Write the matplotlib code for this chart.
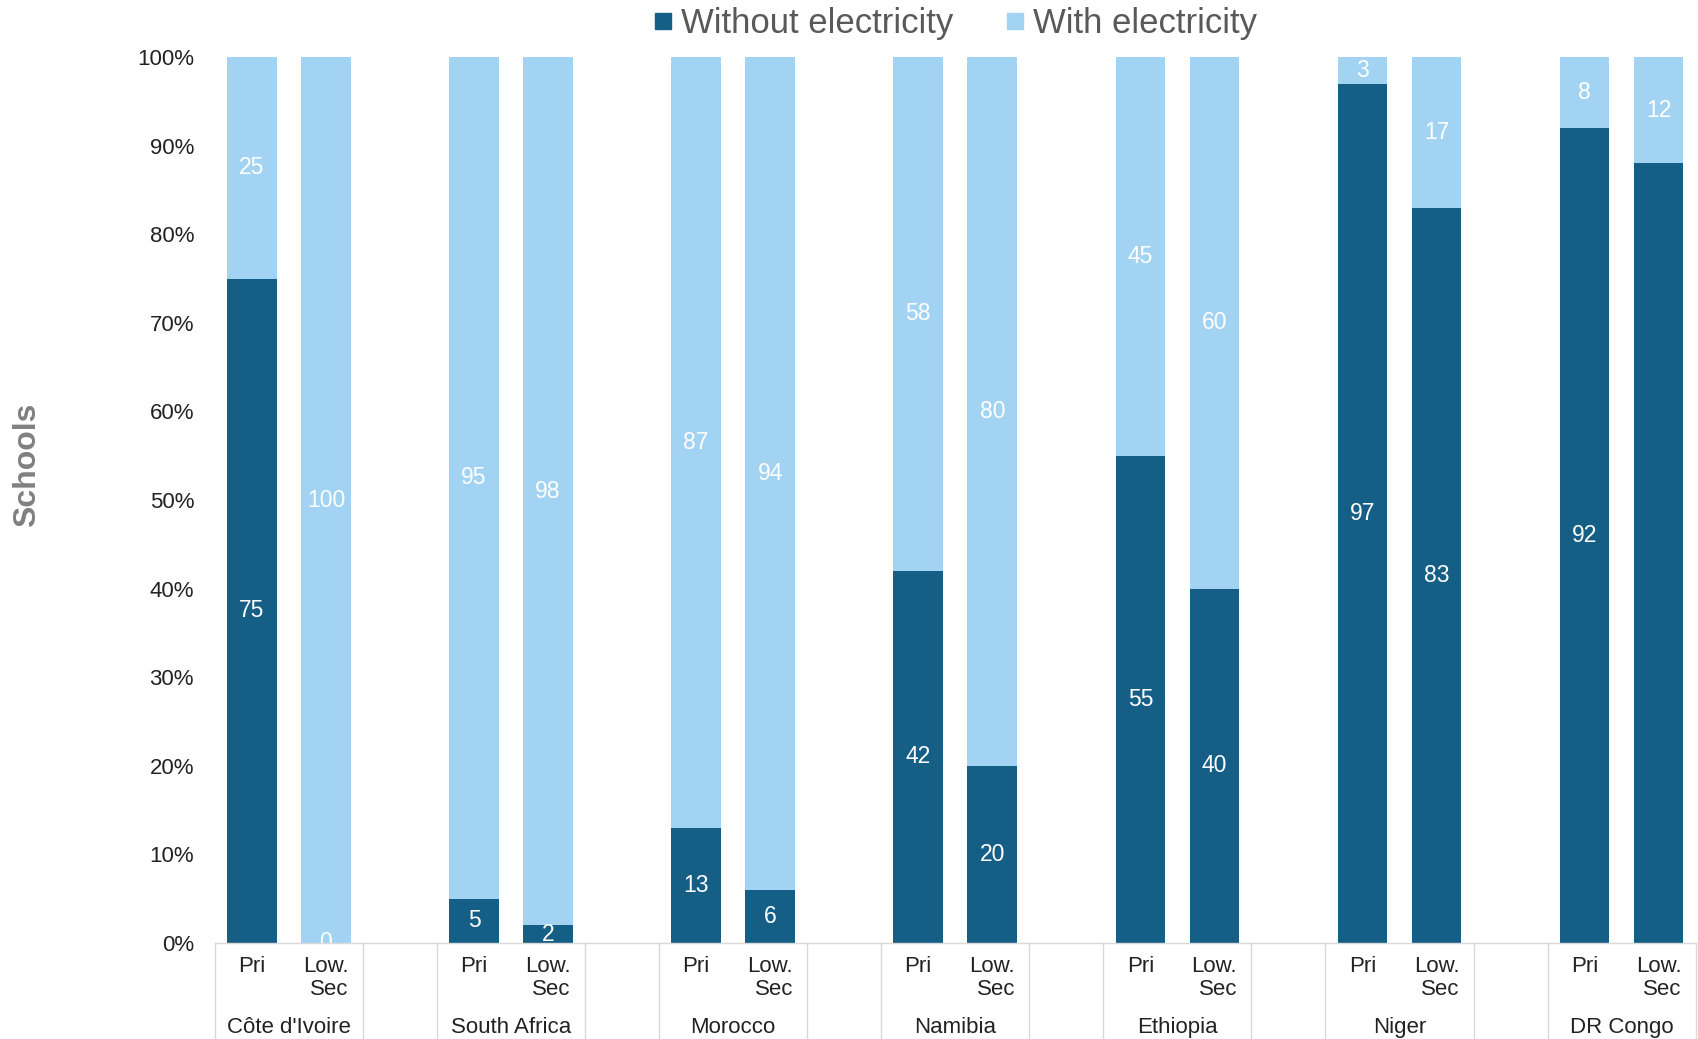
import matplotlib.pyplot as plt
from matplotlib.lines import Line2D

plt.rcParams['font.family'] = ['Liberation Sans', 'DejaVu Sans']

countries = ["Côte d'Ivoire", 'South Africa', 'Morocco', 'Namibia', 'Ethiopia', 'Niger', 'DR Congo']
levels = ['Pri', 'Low.\nSec']

# percent of schools, pairs per country (Pri, Low. Sec)
without_elec = [75, 0, 5, 2, 13, 6, 42, 20, 55, 40, 97, 83, 92, 88]
with_elec = [25, 100, 95, 98, 87, 94, 58, 80, 45, 60, 3, 17, 8, 12]
# DR Congo Low. Sec dark segment has no label in the original
show_without = [True] * 13 + [False]

dark = '#155E86'
light = '#A3D3F3'
grid_col = '#D9D9D9'
txt_col = '#222222'

fig = plt.figure(figsize=(16.99, 10.39), dpi=100)
ax = fig.add_axes([0.1265, 0.0924, 0.8715, 0.8527])

# 3 slots per country: Pri, Low Sec, gap
xs = []
for i in range(len(countries)):
    xs += [i * 3, i * 3 + 1]

w = 0.67
ax.bar(xs, without_elec, width=w, color=dark, zorder=2)
ax.bar(xs, with_elec, width=w, bottom=without_elec, color=light, zorder=2)

for k, x in enumerate(xs):
    d = without_elec[k]
    l = with_elec[k]
    if show_without[k]:
        t = ax.text(x, d / 2, str(d), ha='center', va='center', color='white', fontsize=16.5, zorder=3)
        t.set_clip_on(True)
    ax.text(x, d + l / 2, str(l), ha='center', va='center', color='white', fontsize=16.5, zorder=3)

ax.set_xlim(-0.5, 19.5)
ax.set_ylim(0, 100)
ax.set_yticks(range(0, 101, 10))
ax.set_yticklabels([f'{v}%' for v in range(0, 101, 10)])
ax.tick_params(axis='y', length=0, pad=15, labelsize=16, labelcolor=txt_col)
ax.set_xticks([])
for s in ['top', 'right', 'left']:
    ax.spines[s].set_visible(False)
ax.spines['bottom'].set_color(grid_col)
ax.spines['bottom'].set_linewidth(1)

trans = ax.get_xaxis_transform()
for i, c in enumerate(countries):
    x0 = i * 3
    ax.text(x0, -0.015, levels[0], transform=trans, ha='center', va='top', fontsize=16, color=txt_col)
    ax.text(x0 + 1, -0.015, levels[1], transform=trans, ha='center', va='top', fontsize=16,
            color=txt_col, multialignment='right', linespacing=1.1)
    ax.text(x0 + 0.5, -0.0955, c, transform=trans, ha='center', va='center', fontsize=16, color=txt_col)
    for xe in (x0 - 0.5, x0 + 1.5):
        ax.plot([xe, xe], [0, -0.11], transform=trans, color=grid_col, lw=1, clip_on=False)

fig.text(0.016, 0.553, 'Schools', rotation=90, ha='center', va='center', fontsize=23,
         fontweight='bold', color='#808080')

handles = [Line2D([], [], marker='s', ls='', color=dark, markersize=12),
           Line2D([], [], marker='s', ls='', color=light, markersize=12)]
fig.legend(handles, ['Without electricity', 'With electricity'], loc='center',
           bbox_to_anchor=(0.561, 0.977), ncol=2, frameon=False, fontsize=25,
           handletextpad=0.1, columnspacing=1.4, labelcolor='#595959', handlelength=0.8)

fig.savefig('out.png', dpi=100)
